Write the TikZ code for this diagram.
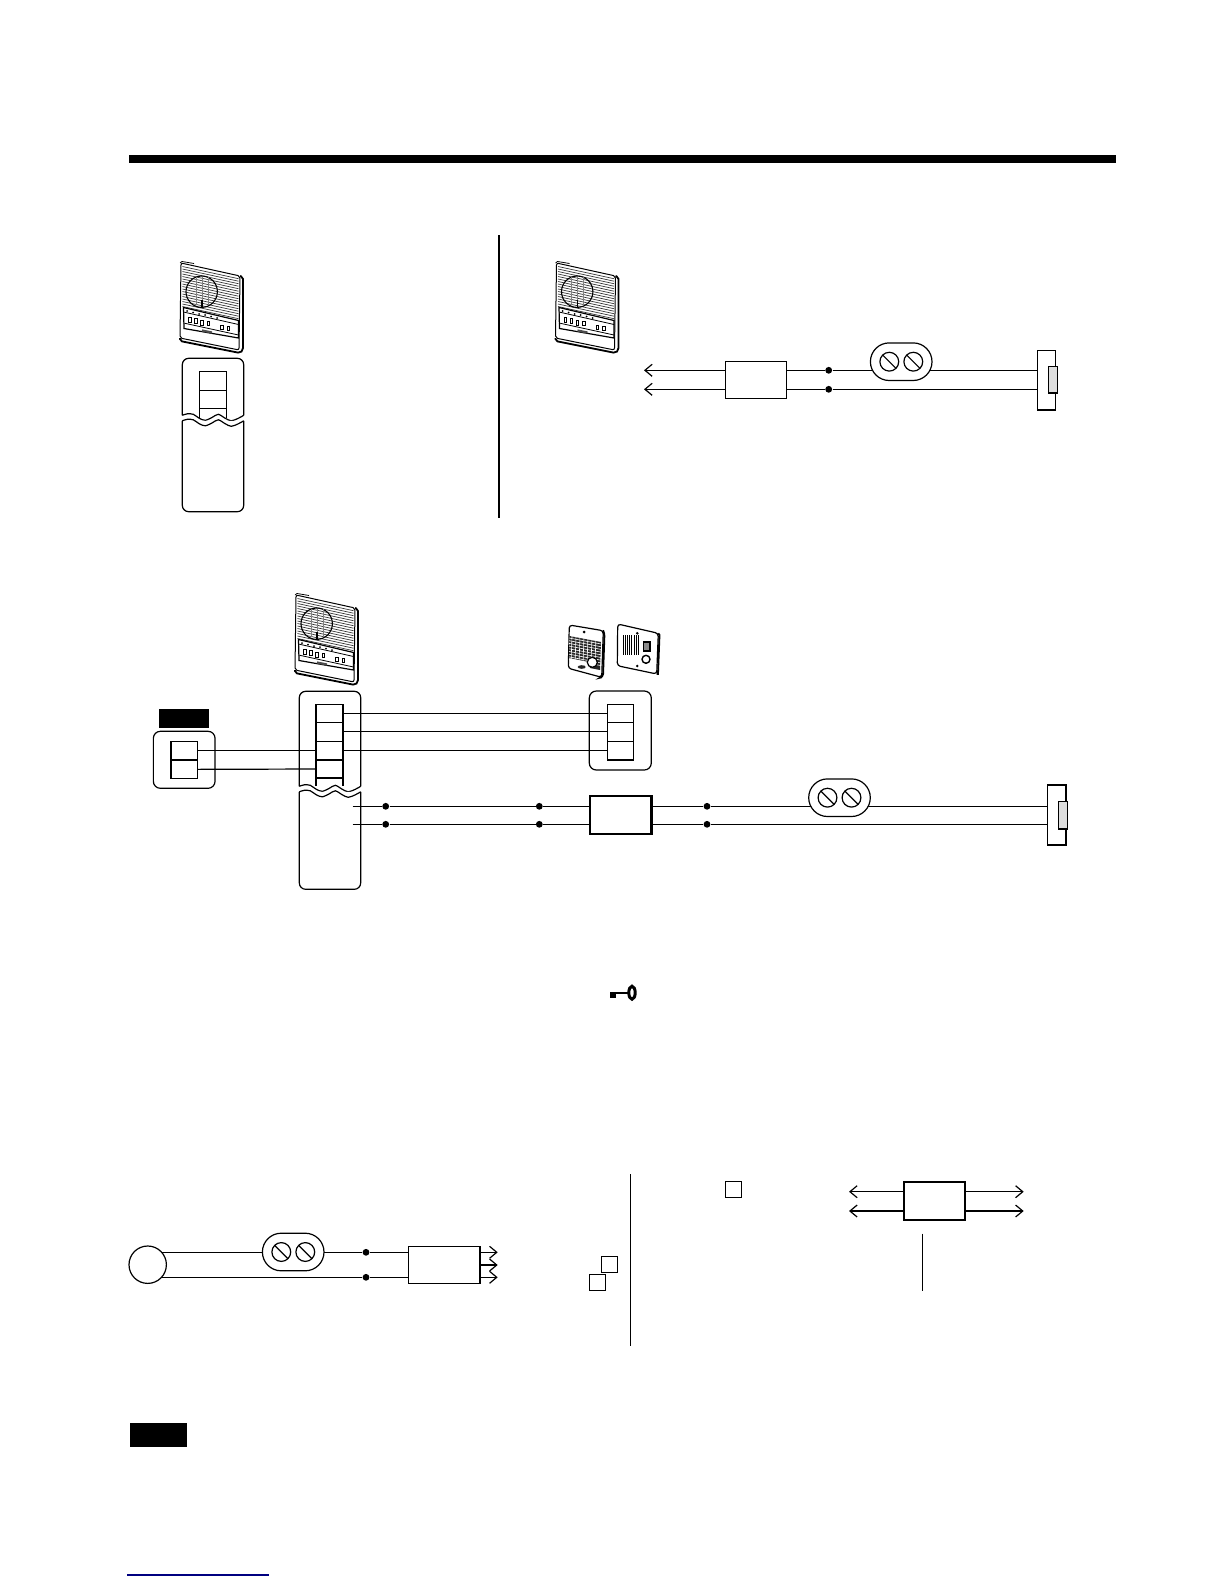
\documentclass[tikz,border=0pt]{standalone}
\usetikzlibrary{arrows.meta,shapes.misc,shapes.geometric}
\pgfdeclarelayer{paper}
\pgfdeclarelayer{wires}
\pgfsetlayers{paper,wires,main}
\tikzset{
  sz/.style 2 args={minimum width=#1*0.5pt,minimum height=#2*0.5pt},
  ln/.style={line width=0.6pt},
  thk/.style={line width=1.1pt},
  cell/.style={draw,ln,inner sep=0pt,outer sep=0pt,rectangle,fill=white},
  box/.style={draw,ln,inner sep=0pt,outer sep=0pt,rectangle,fill=white},
  panelbox/.style={draw,ln,inner sep=0pt,outer sep=0pt,rectangle,rounded corners=3.5pt},
  blk/.style={fill=black,inner sep=0pt,outer sep=0pt,rectangle},
  junc/.style={circle,fill=black,inner sep=0pt,minimum size=3.4pt},
  oval/.style={rounded rectangle,draw,ln,fill=white,inner sep=0pt,outer sep=0pt,minimum width=30.8pt,minimum height=18.8pt},
  screw/.style={circle,draw,ln,fill=white,inner sep=0pt,outer sep=0pt,minimum size=9.4pt},
  bolt/.style={draw,ln,fill=black!13,inner sep=0pt,outer sep=0pt,rectangle},
  tipwire/.style={ln,-{Straight Barb[length=3.6pt,width=6pt,line width=0.6pt]}},
  monitor/.pic={
    \draw[line width=0.5pt,rounded corners=1pt] (0,0)--(59,13)--(58,87)--(-1,75)--cycle;
    \draw[line width=0.9pt,rounded corners=1pt] (59,13)--(62,14)--(62,87)--(59,90)--(-1,78)--(-1,75);
    \draw[line width=0.4pt] (-1,0)--(1,-1.5)--(13,0.5);
    \foreach \k in {0,...,16}{
      \draw[line width=0.34pt,black!80] (1.5,3.5+\k*2.5)--(57.5,15.7+\k*2.5);
    }
    \draw[line width=0.55pt] (20.7,28.7) circle (15.7);
    \foreach \q in {15,21,27}{
      \draw[line width=0.22pt,black!50] (\q,14)--(\q,42);
    }
    \draw[line width=0.7pt] (21,37)--(21,44);
    \draw[line width=0.6pt,fill=white] (2.5,44.5)--(57.5,57.5)--(57.5,75)--(3,65.5)--cycle;
    \draw[line width=0.4pt] (2.5,49)--(57.5,61.5);
    \foreach \q/\r in {6/48,12/49.5,18/51,24/52,30/53.5,36/55}{
      \fill (\q,\r) circle (1);
    }
    \foreach \q/\r in {9/57,14.7/58,20.7/59.7,27.3/60.3,40.7/64.3,47.3/65.3}{
      \draw[line width=0.4pt,fill=white] (\q-1.2,\r-2.4) rectangle (\q+1.2,\r+2.4);
    }
    \draw[line width=0.4pt] (2.5,60)--(57.5,72);
    \draw[line width=1.1pt,black!70] (21,67.5)--(31,69.5);
  }
}
\newcommand{\wavybox}[4]{%
  \begin{scope}[shift={(#1,#2)}]
    \draw[ln,rounded corners=3.2pt] (0,#3)--(0,0)--(61.4,0)--(61.4,#3);
    \draw[ln,fill=white,draw=none] plot[smooth] coordinates {(0,#3) (5,#3-1.5) (11,#3-1) (17,#3+3) (23,#3+5) (30,#3+2) (36,#3-1) (43,#3+3) (49,#3+5.5) (56,#3+3) (61.4,#3)} -- ++(0,6) -- ++(-61.4,0) -- cycle;
    \draw[ln] plot[smooth] coordinates {(0,#3) (5,#3-1.5) (11,#3-1) (17,#3+3) (23,#3+5) (30,#3+2) (36,#3-1) (43,#3+3) (49,#3+5.5) (56,#3+3) (61.4,#3)};
    \draw[ln,fill=white,rounded corners=3.2pt] (0,#3+5.5)--(0,#4)--(61.4,#4)--(61.4,#3+5.5);
    \draw[ln] plot[smooth] coordinates {(0,#3+5.5) (5,#3+4) (11,#3+4.5) (17,#3+8.5) (23,#3+10.5) (30,#3+7.5) (36,#3+4.5) (43,#3+8.5) (49,#3+11) (56,#3+8.5) (61.4,#3+5.5)};
  \end{scope}%
}
\begin{document}
\begin{tikzpicture}[x=0.5pt,y=-0.5pt]
\useasboundingbox (0,0) rectangle (1224,1584);
\begin{pgfonlayer}{paper}
\fill[white] (0,0) rectangle (1224,1584);
\end{pgfonlayer}

% header bar and dividers
\node[blk,sz={987}{8}] (bar) at (622.8,158.6) {};
\coordinate (d1a) at (499,235);
\coordinate (d1b) at (499,518);
\draw[ln] (d1a)--(d1b);
\coordinate (d2a) at (630.5,1174);
\coordinate (d2b) at (630.5,1346);
\draw[ln] (d2a)--(d2b);

% monitors
\pic at (181,263) {monitor};
\pic at (556.5,263) {monitor};
\pic at (296,595) {monitor};

% top-left panel
\node[cell,sz={27.4}{19}] (tl1) at (213,380.8) {};
\node[cell,sz={27.4}{18}] (tl2) at (213,399.3) {};
\draw[ln] (tl2.south west)--++(0,10) (tl2.south east)--++(0,10);
\wavybox{182.3}{358.3}{57}{153.4}

% top-right wiring
\node[box,sz={61}{37}] (b1) at (755.8,379.8) {};
\node[junc] (j1a) at (828.7,370.3) {};
\node[junc] (j1b) at (828.7,389.3) {};
\node[oval] (ov1) at (901.2,361.7) {};
\node[screw] (s1a) at (889.3,361.7) {};
\node[screw] (s1b) at (913.3,361.7) {};
\draw[ln] (s1a.north west)--(s1a.south east) (s1b.north west)--(s1b.south east);
\node[box,sz={17.6}{59.3}] (st1) at (1046.5,380.3) {};
\draw[thk] (st1.south west)--(st1.south east);
\node[bolt,sz={9}{26.6}] (bt1) at (1053.2,380) {};
\draw[thk] (bt1.south west)--(bt1.south east);
\coordinate (t1a) at (644,370.3);
\coordinate (t1b) at (644,389.3);
\begin{pgfonlayer}{wires}
  \draw[tipwire] (b1.west|-t1a)--(t1a);
  \draw[tipwire] (b1.west|-t1b)--(t1b);
  \draw[ln] (b1.east|-j1a)--(j1a);
  \draw[ln] (b1.east|-j1b)--(j1b);
  \draw[ln] (j1a)--(st1.west|-j1a);
  \draw[ln] (j1b)--(st1.west|-j1b);
\end{pgfonlayer}

% middle section: left unit
\node[blk,sz={50}{18.7}] (lbl) at (184,718.3) {};
\node[panelbox,sz={61.7}{57}] (lp) at (184.2,759.8) {};
\node[cell,sz={27}{18.7}] (l1) at (184.2,750.65) {};
\node[cell,sz={27}{18.7}] (l2) at (184.2,769.35) {};
\draw[thk] (l1.south west)--(l1.south east);
\draw[thk] (l1.north west)--(l2.south west);

% middle section: main unit
\wavybox{299.3}{691.3}{95}{198}
\node[cell,sz={27.3}{18}] (m1) at (329.7,713.3) {};
\node[cell,sz={27.3}{19}] (m2) at (329.7,731.8) {};
\node[cell,sz={27.3}{18.7}] (m3) at (329.7,750.65) {};
\node[cell,sz={27.3}{18}] (m4) at (329.7,769) {};
\draw[thk] (m3.south west)--(m3.south east);
\draw[thk] (m1.north east)--(m4.south east);
\draw[ln] (m4.south west)--++(0,7.5);
\draw[thk] (m4.south east)--++(0,7.5);

% middle section: door stations
\begin{scope}
  \draw[line width=0.6pt,rounded corners=1.5pt,fill=white] (569.3,625)--(603.3,630.7)--(601.7,677.3)--(568.3,668.3)--cycle;
  \draw[line width=0.9pt,rounded corners=1.5pt] (603.3,630.7)--(604.5,633)--(603,677)--(601.7,677.3);
  \fill[black!85] (569.5,636) -- (601,642) -- (600,670) -- (590,668) -- (589,662) -- (569,658) -- cycle;
  \foreach \k in {0,...,8}{
    \draw[white,line width=0.3pt] (569,638+\k*2.7)--(601,644+\k*2.7);
  }
  \foreach \k in {0,...,6}{
    \draw[white,line width=0.3pt] (572+\k*4,636)--(571+\k*4,664);
  }
  \fill[black!85] (581.7,667) ellipse (4 and 1.8);
  \draw[line width=0.6pt,fill=white] (592.3,662.3) circle (5);
  \fill (584,632) circle (1.5);
  \draw[line width=0.6pt,rounded corners=1.5pt,fill=white] (617.7,624)--(658.3,633.3)--(656.7,674)--(617.3,665.7)--cycle;
  \draw[line width=0.9pt] (658.3,633.3)--(659.5,635)--(658,674)--(656.7,674);
  \foreach \q in {623,625.2,...,640}{
    \draw[line width=0.42pt] (\q,635)--(\q,655);
  }
  \draw[line width=0.7pt,fill=black!45] (643.5,642) rectangle (650,651);
  \draw[line width=0.7pt,fill=white] (646,659.3) circle (4);
  \fill (637.3,633.3) circle (1.4);
  \fill (637.3,666) circle (1.4);
\end{scope}
\node[panelbox,sz={62}{79}] (rp) at (620.3,730.5) {};
\node[cell,sz={26.4}{18}] (r1) at (620.5,713.3) {};
\node[cell,sz={26.4}{19}] (r2) at (620.5,731.8) {};
\node[cell,sz={26.4}{18.7}] (r3) at (620.5,750.65) {};
\draw[thk] (r3.south west)--(r3.south east);

% middle section: lock line
\coordinate (ma) at (352.7,806.3);
\coordinate (mb) at (352.7,824.3);
\node[junc] (j2a) at (385.7,806.3) {};
\node[junc] (j2b) at (385.7,824.3) {};
\node[junc] (j3a) at (539.3,806.3) {};
\node[junc] (j3b) at (539.3,824.3) {};
\node[box,thk,sz={61.4}{38}] (b2) at (620.7,815) {};
\node[junc] (j4a) at (707,806.3) {};
\node[junc] (j4b) at (707,824.3) {};
\node[oval] (ov2) at (839.5,797.7) {};
\node[screw] (s2a) at (827.5,797.7) {};
\node[screw] (s2b) at (851.5,797.7) {};
\draw[ln] (s2a.north west)--(s2a.south east) (s2b.north west)--(s2b.south east);
\node[box,sz={18.7}{59.7}] (st2) at (1056.6,814.8) {};
\draw[thk] (st2.north east)--(st2.south east)--(st2.south west);
\node[bolt,sz={9}{27.7}] (bt2) at (1063.2,815.1) {};
\draw[thk] (bt2.south west)--(bt2.south east);
\begin{pgfonlayer}{wires}
  \draw[ln] (j2a)--(j3a);
  \draw[ln] (j2b)--(j3b);
  \draw[ln] (j3a)--(b2.west|-j3a);
  \draw[ln] (j3b)--(b2.west|-j3b);
  \draw[ln] (b2.east|-j4a)--(j4a);
  \draw[ln] (b2.east|-j4b)--(j4b);
  \draw[ln] (j4a)--(st2.west|-j4a);
  \draw[ln] (j4b)--(st2.west|-j4b);
\end{pgfonlayer}
\draw[ln] (ma)--(j2a);
\draw[ln] (mb)--(j2b);
\draw[ln] (l1.east)--(m3.west);
\draw[ln] (l2.east)--(m4.west);
\draw[ln] (m1.east)--(r1.west);
\draw[ln] (m2.east)--(r2.west);
\draw[ln] (m3.east)--(r3.west);

% key symbol
\node[blk,sz={5.5}{6.5}] (keyhead) at (612.8,995) {};
\coordinate (keyshaft) at (630,992.7);
\draw[line width=0.9pt] (keyhead.north east|-keyshaft)--(keyshaft);
\node[draw,line width=1.5pt,ellipse,inner sep=0pt,minimum width=3.2pt,minimum height=6.5pt] (keyring) at (632,992.7) {};

% bottom-left wiring
\coordinate (c1a) at (161.7,1252.3);
\coordinate (c1b) at (161.7,1277.3);
\node[circle,draw,ln,fill=white,inner sep=0pt,minimum size=18.7pt] (c1) at (147.7,1264.7) {};
\node[oval] (ov3) at (293.2,1252) {};
\node[screw] (s3a) at (281.3,1252) {};
\node[screw] (s3b) at (305.3,1252) {};
\draw[ln] (s3a.north west)--(s3a.south east) (s3b.north west)--(s3b.south east);
\node[junc] (j5a) at (366,1252.3) {};
\node[junc] (j5b) at (366,1277.3) {};
\node[box,sz={72}{37}] (b3) at (444.3,1264.8) {};
\draw[thk] (b3.north east)--(b3.south east);
\coordinate (t3a) at (497.7,1252.3);
\coordinate (t3b) at (497.7,1265);
\coordinate (t3c) at (497.7,1277.3);
\begin{pgfonlayer}{wires}
  \draw[ln] (c1a)--(j5a);
  \draw[ln] (c1b)--(j5b);
  \draw[ln] (j5a)--(b3.west|-j5a);
  \draw[ln] (j5b)--(b3.west|-j5b);
\end{pgfonlayer}
\draw[tipwire] (b3.east|-t3a)--(t3a);
\draw[tipwire,line width=1.1pt] (b3.east|-t3b)--(t3b);
\draw[tipwire] (b3.east|-t3c)--(t3c);
\node[box,sz={16.4}{16.4}] (q1) at (609.5,1264.5) {};
\node[box,sz={16.4}{16.4}] (q2) at (597.5,1282.5) {};

% bottom-right
\node[box,sz={16.4}{16.4}] (q3) at (733.5,1189.5) {};
\node[box,thk,sz={61.6}{37.7}] (b4) at (934.5,1201.2) {};
\coordinate (t4a) at (849,1191.7);
\coordinate (t4b) at (849,1211);
\coordinate (t4c) at (1023.7,1191.7);
\coordinate (t4d) at (1023.7,1211);
\draw[tipwire] (b4.west|-t4a)--(t4a);
\draw[tipwire,line width=1.1pt] (b4.west|-t4b)--(t4b);
\draw[tipwire] (b4.east|-t4c)--(t4c);
\draw[tipwire,line width=1.1pt] (b4.east|-t4d)--(t4d);
\coordinate (v1) at (922.3,1233.7);
\coordinate (v2) at (922.3,1291);
\draw[ln] (v1)--(v2);

% note tag and footer rule
\node[blk,sz={57.3}{23.7}] (note) at (158.7,1434.8) {};
\coordinate (fa) at (127,1575);
\coordinate (fb) at (269,1575);
\draw[line width=0.6pt,color=blue!50!black] (fa)--(fb);
\end{tikzpicture}
\end{document}
